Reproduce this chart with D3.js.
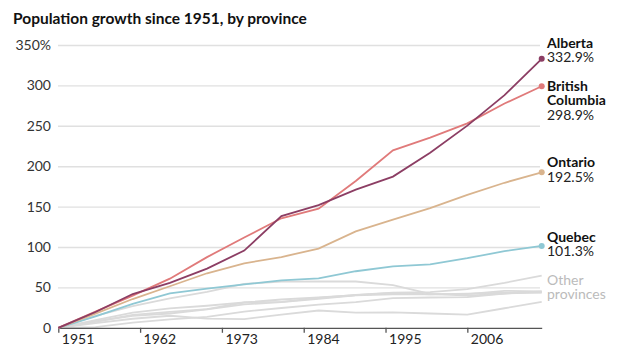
<!DOCTYPE html>
<html>
<head>
<meta charset="utf-8">
<script src="https://cdn.jsdelivr.net/npm/d3@7"></script>
<style>
  body { margin: 0; background: #fff; }
  svg { display: block; font-family: Lato, "Open Sans", sans-serif; }
</style>
</head>
<body>
<svg id="chart" width="620" height="349"></svg>
<script>
// Census years and cumulative population growth since 1951 (%)
const years = [1951, 1956, 1961, 1966, 1971, 1976, 1981, 1986, 1991, 1996, 2001, 2006, 2011, 2016];

const alberta          = [0, 19.5, 41.8, 55.7, 73.3, 95.6, 138.2, 151.8, 170.9, 187.1, 216.6, 250.2, 288.0, 332.9];
const britishColumbia  = [0, 20.0, 39.8, 60.8, 87.5, 111.7, 135.5, 147.5, 181.7, 219.6, 235.4, 253.0, 277.6, 298.9];
const ontario          = [0, 17.6, 35.6, 51.4, 67.5, 79.8, 87.6, 98.0, 119.4, 133.9, 148.2, 164.5, 179.5, 192.5];
const quebec           = [0, 14.1, 29.7, 42.5, 48.6, 53.7, 58.8, 61.1, 70.0, 76.0, 78.5, 86.1, 94.9, 101.3];

const newfoundland     = [0, 14.8, 26.7, 36.5, 44.5, 54.3, 57.1, 57.3, 57.3, 52.7, 41.9, 39.9, 42.4, 43.8];
const princeEdwardIsl  = [0, 0.9, 6.3, 10.3, 13.4, 20.1, 24.5, 28.7, 31.8, 36.7, 37.5, 38.0, 42.4, 45.2];
const novaScotia       = [0, 8.1, 14.7, 17.7, 22.8, 28.9, 31.9, 35.9, 40.1, 41.5, 41.3, 42.2, 43.4, 43.7];
const newBrunswick     = [0, 7.5, 15.9, 19.6, 23.0, 31.3, 35.0, 37.6, 40.4, 43.1, 41.5, 41.6, 45.7, 44.9];
const manitoba         = [0, 9.5, 18.7, 24.0, 27.3, 31.5, 32.2, 36.9, 40.6, 43.4, 44.2, 47.9, 55.6, 64.6];
const saskatchewan     = [0, 5.9, 11.2, 14.9, 11.4, 10.8, 16.4, 21.4, 18.9, 19.1, 17.7, 16.4, 24.2, 32.1];

const xTickYears = [1951, 1962, 1973, 1984, 1995, 2006];
const yTicks = [0, 50, 100, 150, 200, 250, 300, 350];

// dy: offset of the first label line's baseline from the end dot
const highlighted = [
  { name: ["Alberta"], values: alberta, color: "#8c3e64", dy: -11 },
  { name: ["British", "Columbia"], values: britishColumbia, color: "#e07a7a", dy: 4.5 },
  { name: ["Ontario"], values: ontario, color: "#d9b48e", dy: -5 },
  { name: ["Quebec"], values: quebec, color: "#8fc8d4", dy: -4 }
];
const others = [newfoundland, princeEdwardIsl, novaScotia, newBrunswick, manitoba, saskatchewan];

const svg = d3.select("#chart");

const x = d3.scaleLinear().domain([1951, 2016]).range([58.3, 541.7]);
const y = d3.scaleLinear().domain([0, 350]).range([327.8, 45]);

// Title
svg.append("text")
  .attr("x", 13).attr("y", 23.5)
  .attr("font-size", 15.5).attr("font-weight", "bold").attr("fill", "#111")
  .text("Population growth since 1951, by province");

// Horizontal gridlines and y labels
const yAxis = d3.axisLeft(y)
  .tickValues(yTicks)
  .tickSize(-(540 - 58))
  .tickPadding(7)
  .tickFormat(d => d === 350 ? "350%" : d);
const gy = svg.append("g").attr("transform", "translate(58,0)").call(yAxis);
gy.select(".domain").remove();
gy.selectAll(".tick line")
  .attr("stroke", "#e0e0e0").attr("stroke-width", 1.4)
  .attr("display", d => d === 0 ? "none" : null);
gy.selectAll(".tick text")
  .attr("font-size", 14).attr("fill", "#333").attr("font-family", "Lato, sans-serif");

// Lines
const line = d3.line().x((d, i) => x(years[i])).y(d => y(d));

svg.append("g").selectAll("path")
  .data(others).join("path")
  .attr("d", line)
  .attr("fill", "none").attr("stroke", "#dadada").attr("stroke-width", 1.8);

// X axis
const xAxis = d3.axisBottom(x)
  .tickValues(xTickYears)
  .tickSize(5)
  .tickSizeOuter(0)
  .tickFormat(d3.format("d"));
const gx = svg.append("g").attr("transform", `translate(0,${y(0)})`).call(xAxis);
gx.select(".domain").attr("stroke", "#555").attr("stroke-width", 1.3);
gx.selectAll(".tick line").attr("stroke", "#555").attr("stroke-width", 1.3);
gx.selectAll(".tick text")
  .attr("text-anchor", "start").attr("x", 3).attr("y", 6).attr("dy", "0.71em")
  .attr("font-size", 14).attr("fill", "#222").attr("font-family", "Lato, sans-serif");

const hl = svg.append("g");
hl.selectAll("path")
  .data(highlighted.slice().reverse()).join("path")
  .attr("d", d => line(d.values))
  .attr("fill", "none").attr("stroke", d => d.color).attr("stroke-width", 1.8);

hl.selectAll("circle")
  .data(highlighted).join("circle")
  .attr("cx", x(2016))
  .attr("cy", d => y(d.values[d.values.length - 1]))
  .attr("r", 3).attr("fill", d => d.color);

// End labels: bold name lines, then the final value
const labels = svg.append("g").attr("font-size", 14);
const lineGap = 14.5;
highlighted.forEach(d => {
  const last = d.values[d.values.length - 1];
  const base = y(last) + d.dy;
  d.name.forEach((n, i) => {
    labels.append("text").attr("x", 547).attr("y", base + i * lineGap)
      .attr("font-weight", "bold").attr("fill", "#111").text(n);
  });
  labels.append("text").attr("x", 547).attr("y", base + d.name.length * lineGap)
    .attr("fill", "#222").text(d3.format(".1f")(last) + "%");
});

["Other", "provinces"].forEach((t, i) => {
  labels.append("text")
    .attr("x", 547).attr("y", y(64.6) + 9 + i * lineGap)
    .attr("fill", "#bbb").text(t);
});
</script>
</body>
</html>
